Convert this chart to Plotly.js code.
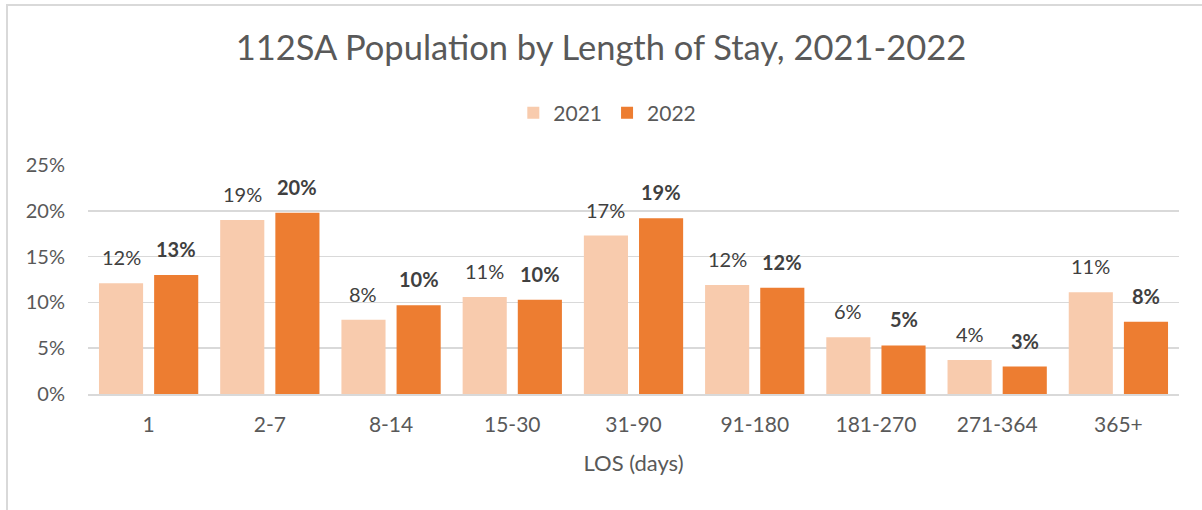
<!DOCTYPE html>
<html>
<head>
<meta charset="utf-8">
<script src="https://cdn.plot.ly/plotly-3.0.1.min.js"></script>
<style>
  html, body { margin: 0; padding: 0; background: #fff; }
  #wrap { position: relative; width: 1202px; height: 510px; overflow: hidden; }
  #frame { position: absolute; left: 6px; top: 4px; width: 1200px; height: 510px;
           border-top: 2px solid #D9D9D9; border-left: 2px solid #D9D9D9; box-sizing: border-box; pointer-events: none; }
  #chart { position: absolute; left: 0; top: 0; width: 1202px; height: 510px; }
</style>
</head>
<body>
<div id="wrap">
  <div id="chart"></div>
  <div id="frame"></div>
</div>
<script>
const categories = ["1", "2-7", "8-14", "15-30", "31-90", "91-180", "181-270", "271-364", "365+"];
const values2021 = [0.121, 0.190, 0.081, 0.106, 0.173, 0.119, 0.062, 0.037, 0.111];
const values2022 = [0.130, 0.198, 0.097, 0.103, 0.192, 0.116, 0.053, 0.030, 0.079];
const seriesNames = ["2021", "2022"];

const FONT = "Lato, 'Open Sans', sans-serif";
const c2021 = "#F8CBAD";
const c2022 = "#ED7D31";

const traces = [
  { type: "bar", name: seriesNames[0], x: categories, y: values2021,
    marker: { color: c2021 }, hoverinfo: "x+y" },
  { type: "bar", name: seriesNames[1], x: categories, y: values2022,
    marker: { color: c2022 }, hoverinfo: "x+y" }
];

const fmt = v => Math.round(v * 100) + "%";
const annotations = [];
categories.forEach((c, i) => {
  annotations.push({ x: i, y: values2021[i], xref: "x", yref: "y", text: fmt(values2021[i]),
    showarrow: false, xanchor: "center", yanchor: "bottom", xshift: -27.6, yshift: 12,
    font: { family: FONT, size: 20, color: "#404040" } });
  annotations.push({ x: i, y: values2022[i], xref: "x", yref: "y", text: "<b>" + fmt(values2022[i]) + "</b>",
    showarrow: false, xanchor: "center", yanchor: "bottom", xshift: 27.6, yshift: 12,
    font: { family: FONT, size: 20, color: "#404040" } });
});

const layout = {
  width: 1202, height: 510,
  margin: { l: 88, r: 23, t: 165, b: 116 },
  paper_bgcolor: "#fff", plot_bgcolor: "#fff",
  font: { family: FONT, color: "#595959", size: 20 },
  title: { text: "112SA Population by Length of Stay, 2021-2022", x: 0.5, xref: "container",
           y: 0.906, yref: "container", yanchor: "middle",
           font: { family: FONT, size: 34.5, color: "#595959" } },
  barmode: "group", bargap: 0.09, bargroupgap: 0.2,
  showlegend: true,
  legend: { orientation: "h", x: 0.476, xanchor: "center", y: 1.227, yanchor: "middle",
            font: { family: FONT, size: 21, color: "#595959" } },
  xaxis: { type: "category", showgrid: false, showline: true, linecolor: "#D9D9D9", linewidth: 1.5,
           ticks: "", ticklabelstandoff: 11, tickfont: { family: FONT, size: 21, color: "#595959" },
           title: { text: "LOS (days)", font: { family: FONT, size: 22, color: "#595959" }, standoff: 21 } },
  yaxis: { range: [0, 0.25], dtick: 0.05, tickformat: ".0%", showgrid: true, gridcolor: "#D9D9D9", gridwidth: 1.5,
           zeroline: false, showline: false, ticks: "", ticklabelstandoff: 22,
           tickfont: { family: FONT, size: 20, color: "#595959" } },
  annotations: annotations
};

Plotly.newPlot("chart", traces, layout, { displayModeBar: false, staticPlot: true });
</script>
</body>
</html>
